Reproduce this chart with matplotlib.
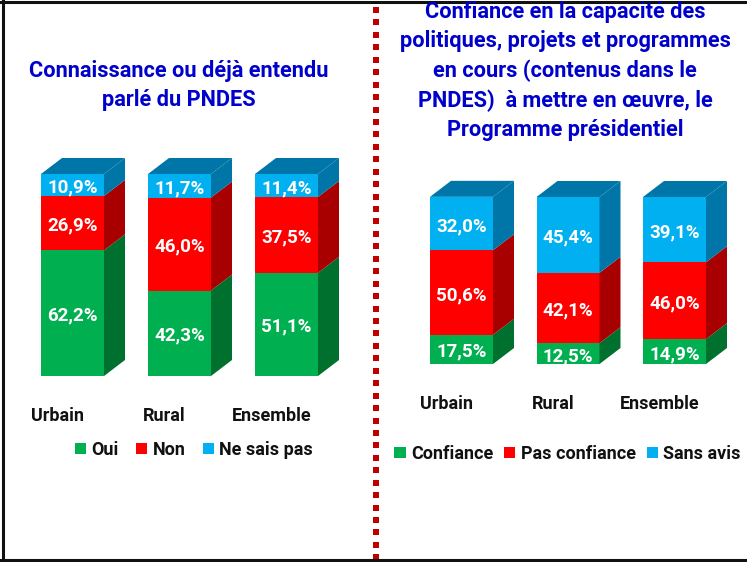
import matplotlib
matplotlib.use('Agg')
from matplotlib import pyplot as plt
from matplotlib.patches import Polygon, Patch, Rectangle

W, H = 747, 562

categories = ['Urbain', 'Rural', 'Ensemble']

# left panel
left_title = 'Connaissance ou déjà entendu\nparlé du PNDES'
left_series = ['Oui', 'Non', 'Ne sais pas']
left_low = [62.2, 42.3, 51.1]
left_mid = [26.9, 46.0, 37.5]
left_high = [10.9, 11.7, 11.4]

# right panel
right_title = ('Confiance en la capacité des\npolitiques, projets et programmes\n'
               'en cours (contenus dans le\nPNDES)  à mettre en œuvre, le\nProgramme présidentiel')
right_series = ['Confiance', 'Pas confiance', 'Sans avis']
right_low = [17.5, 12.5, 14.9]
right_mid = [50.6, 42.1, 46.0]
right_high = [32.0, 45.4, 39.1]

front = ['#00B050', '#FF0000', '#00B0F0']
side = ['#00702F', '#A80000', '#0076A8']

plt.rcParams['font.family'] = ['Roboto', 'Liberation Sans', 'DejaVu Sans']
fig = plt.figure(figsize=(W / 100, H / 100), dpi=100, facecolor='white')


def panel(x0, x1, y_base, y_full, c0, step, low, mid, high, label_y):
    # axes box in pixels, data scales set so bars land where they should
    top_px = y_full - 22
    ax = fig.add_axes([x0 / W, 1 - y_base / H, (x1 - x0) / W, (y_base - top_px) / H])
    per_pct = (y_base - y_full) / 100
    ax.set_xlim((x0 - c0) / step, (x1 - c0) / step)
    ax.set_ylim(0, (y_base - top_px) / per_pct)
    w = 63 / step
    dx = 21 / step
    dy = 16 / per_pct
    xs = list(range(len(categories)))
    bottoms = [0, 0, 0]
    for k, vals in enumerate([low, mid, high]):
        ax.bar(xs, vals, w, bottom=bottoms, color=front[k], linewidth=0)
        for i in xs:
            a = bottoms[i]
            b = a + vals[i]
            r = i + w / 2
            ax.add_patch(Polygon([(r, a), (r + dx, a + dy), (r + dx, b + dy), (r, b)],
                                 facecolor=side[k], linewidth=0))
            ax.annotate(('%.1f%%' % vals[i]).replace('.', ','), (i, a + vals[i] / 2), xytext=(0, -1.8),
                        textcoords='offset points', color='white', fontsize=13.5, fontweight='bold',
                        ha='center', va='center')
            bottoms[i] = b
    for i in xs:
        t = bottoms[i]
        ax.add_patch(Polygon([(i - w / 2, t), (i + w / 2, t), (i + w / 2 + dx, t + dy), (i - w / 2 + dx, t + dy)],
                             facecolor=side[2], linewidth=0))
    ax.set_xticks([i - 15 / step for i in xs])
    ax.set_xticklabels(categories, fontsize=13, fontweight='bold', color='#111111')
    ax.tick_params(axis='x', length=0, pad=label_y - y_base - 15.8)
    ax.set_yticks([])
    for s in ax.spines.values():
        s.set_visible(False)
    ax.patch.set_alpha(0)
    return ax


panel(20, 360, 376, 174, 72.5, 107, left_low, left_mid, left_high, 414)
panel(395, 740, 364, 197, 461.5, 106.5, right_low, right_mid, right_high, 402)

fig.text(179 / W, 1 - 85.5 / H, left_title, color='#0000CC', fontsize=15.7, fontweight='bold',
         ha='center', va='center', linespacing=1.4)
fig.text(565 / W, 1 - 71 / H, right_title, color='#0000CC', fontsize=15.7, fontweight='bold',
         ha='center', va='center', linespacing=1.43)


def legend(names, cx, cy, gap):
    handles = [Patch(facecolor=front[i], label=names[i]) for i in range(3)]
    fig.legend(handles=handles, loc='center', bbox_to_anchor=(cx / W, 1 - cy / H), ncol=3, frameon=False,
               prop={'size': 13, 'weight': 'bold', 'family': 'Roboto'}, handlelength=0.62, handleheight=0.62,
               handletextpad=0.3, columnspacing=gap, labelcolor='#111111', borderpad=0)


legend(left_series, 194, 450, 0.94)
legend(right_series, 567.5, 454, 0.6)

# dotted divider and outer frame
y = 10
while y < H:
    fig.add_artist(Rectangle((373 / W, 1 - (y + 3) / H), 6 / W, 6 / H, transform=fig.transFigure,
                             facecolor='#C00000', linewidth=0))
    y += 12.44
fig.add_artist(plt.Line2D([3 / W, 3 / W], [0, 1], color='#111111', linewidth=2.2))
fig.add_artist(plt.Line2D([0, 1], [1 - 2 / H, 1 - 2 / H], color='#111111', linewidth=2.2))
fig.add_artist(plt.Line2D([0, 1], [1 - 560 / H, 1 - 560 / H], color='#111111', linewidth=2.2))

fig.savefig('out.png', dpi=100)
